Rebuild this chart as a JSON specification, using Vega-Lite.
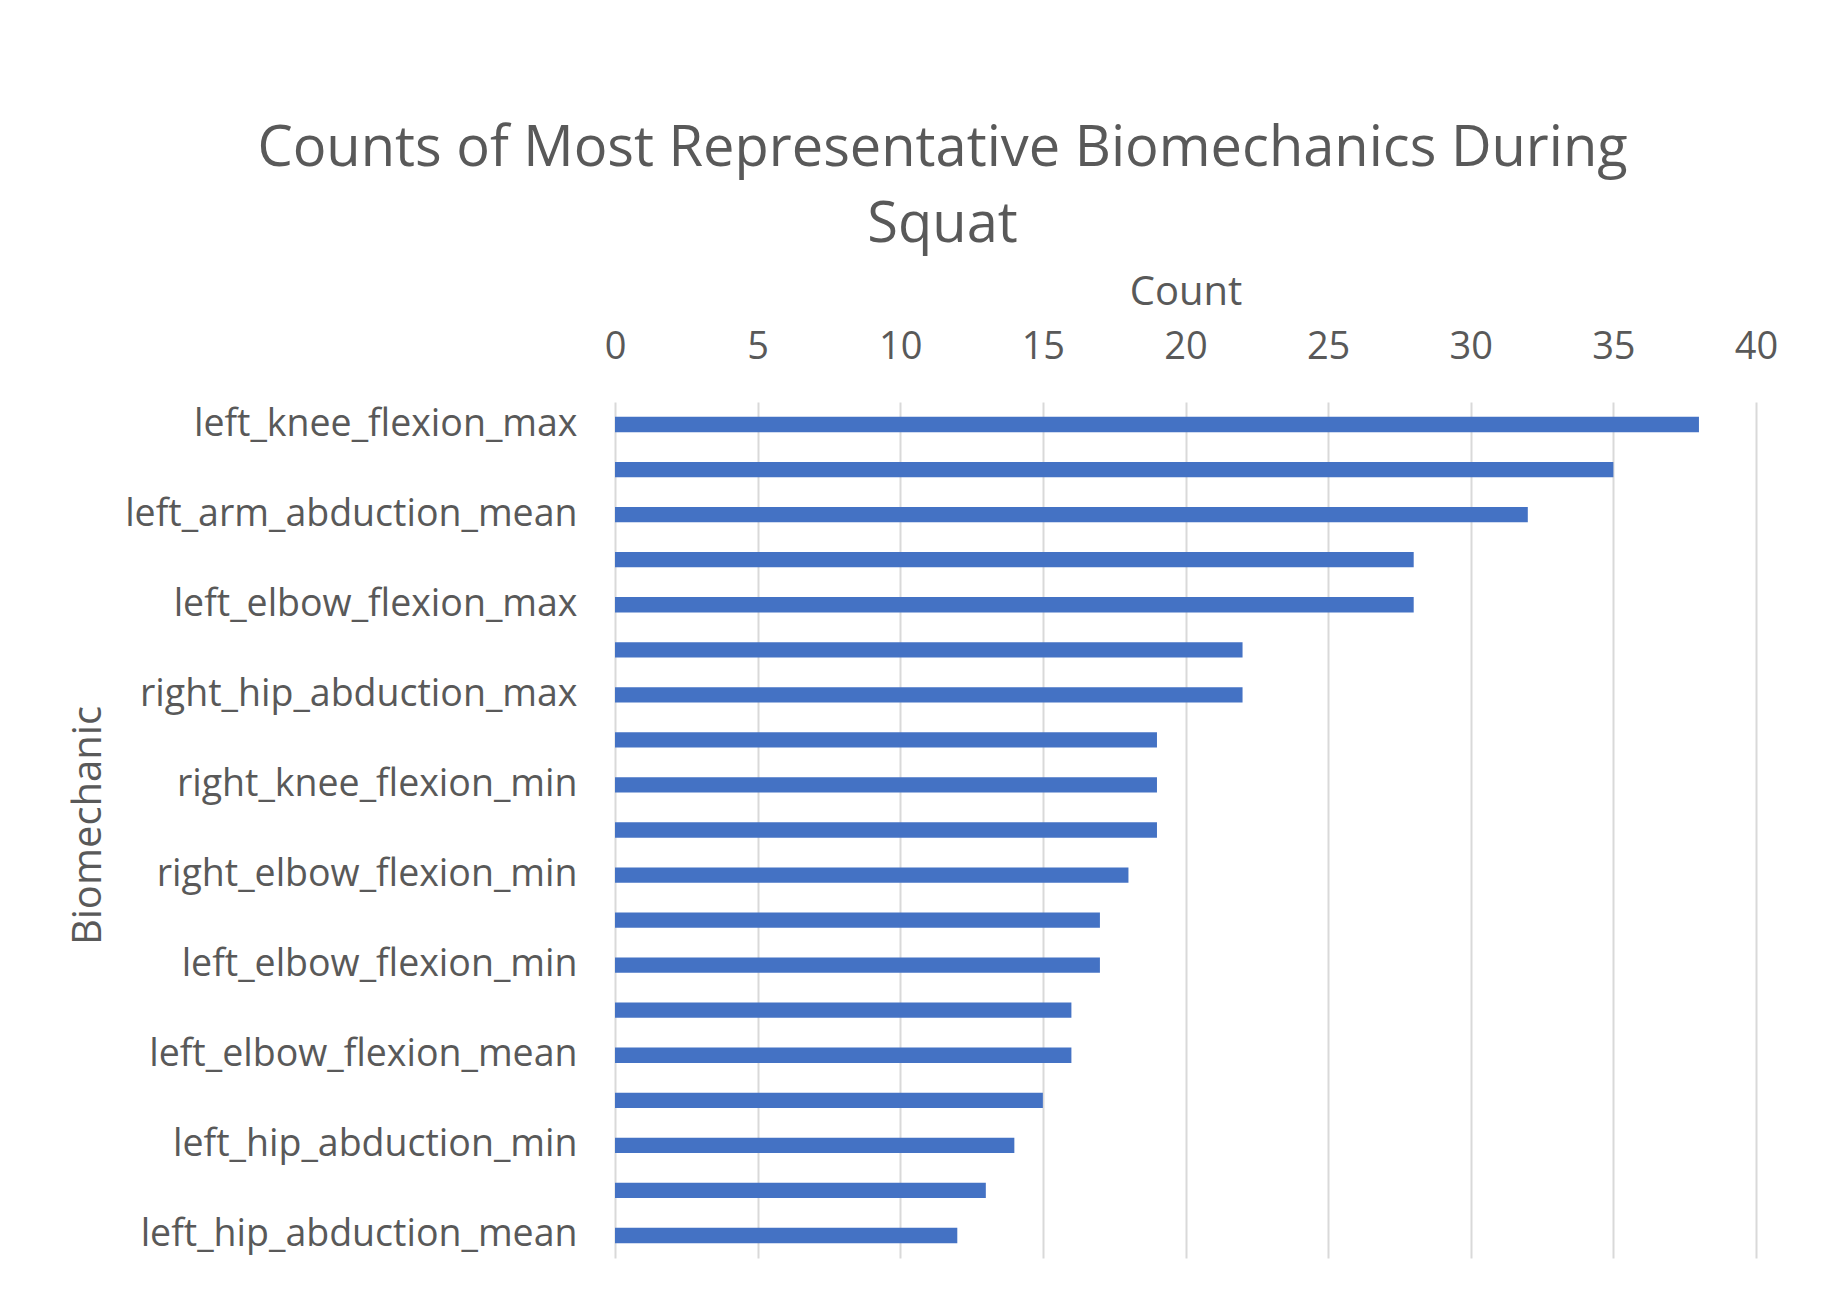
{
  "$schema": "https://vega.github.io/schema/vega-lite/v6.json",
  "autosize": {"type": "none"},
  "padding": {"left": 615, "top": 402, "right": 74, "bottom": 42},
  "width": 1141,
  "height": 856,
  "background": "white",
  "title": {
    "text": ["Counts of Most Representative Biomechanics During", "Squat"],
    "font": "Open Sans",
    "fontSize": 56,
    "fontWeight": "normal",
    "color": "#595959",
    "anchor": "middle",
    "dx": -243,
    "lineHeight": 76,
    "offset": 18
  },
  "data": {
    "values": [
      {"biomechanic": "left_knee_flexion_max", "count": 38},
      {"biomechanic": "right_knee_flexion_max", "count": 35},
      {"biomechanic": "left_arm_abduction_mean", "count": 32},
      {"biomechanic": "right_arm_abduction_mean", "count": 28},
      {"biomechanic": "left_elbow_flexion_max", "count": 28},
      {"biomechanic": "right_elbow_flexion_max", "count": 22},
      {"biomechanic": "right_hip_abduction_max", "count": 22},
      {"biomechanic": "left_hip_abduction_max", "count": 19},
      {"biomechanic": "right_knee_flexion_min", "count": 19},
      {"biomechanic": "left_knee_flexion_min", "count": 19},
      {"biomechanic": "right_elbow_flexion_min", "count": 18},
      {"biomechanic": "right_arm_abduction_max", "count": 17},
      {"biomechanic": "left_elbow_flexion_min", "count": 17},
      {"biomechanic": "left_arm_abduction_max", "count": 16},
      {"biomechanic": "left_elbow_flexion_mean", "count": 16},
      {"biomechanic": "right_elbow_flexion_mean", "count": 15},
      {"biomechanic": "left_hip_abduction_min", "count": 14},
      {"biomechanic": "right_hip_abduction_min", "count": 13},
      {"biomechanic": "left_hip_abduction_mean", "count": 12}
    ]
  },
  "mark": {"type": "bar", "color": "#4472C4"},
  "encoding": {
    "y": {
      "field": "biomechanic",
      "type": "nominal",
      "sort": null,
      "scale": {"paddingInner": 0.66, "paddingOuter": 0.33},
      "axis": {
        "title": "Biomechanic",
        "values": ["left_knee_flexion_max", "left_arm_abduction_mean", "left_elbow_flexion_max", "right_hip_abduction_max", "right_knee_flexion_min", "right_elbow_flexion_min", "left_elbow_flexion_min", "left_elbow_flexion_mean", "left_hip_abduction_min", "left_hip_abduction_mean"],
        "domain": false,
        "ticks": false,
        "labelLimit": 0,
        "labelFont": "Open Sans",
        "labelFontSize": 37.5,
        "labelColor": "#595959",
        "labelPadding": 38,
        "titleFont": "Open Sans",
        "titleFontSize": 40,
        "titleFontWeight": "normal",
        "titleColor": "#595959",
        "titleX": -527,
        "titleY": 423,
        "titleAngle": -90,
        "titleAlign": "center",
        "titleBaseline": "middle"
      }
    },
    "x": {
      "field": "count",
      "type": "quantitative",
      "scale": {"domain": [0, 40]},
      "axis": {
        "orient": "top",
        "title": "Count",
        "values": [0, 5, 10, 15, 20, 25, 30, 35, 40],
        "domain": false,
        "ticks": false,
        "grid": true,
        "gridColor": "#D9D9D9",
        "gridWidth": 2,
        "labelFlush": false,
        "labelFont": "Open Sans",
        "labelFontSize": 38,
        "labelColor": "#595959",
        "labelPadding": 36,
        "titleFont": "Open Sans",
        "titleFontSize": 40,
        "titleFontWeight": "normal",
        "titleColor": "#595959",
        "titlePadding": 16
      }
    }
  },
  "config": {"view": {"stroke": null}}
}
